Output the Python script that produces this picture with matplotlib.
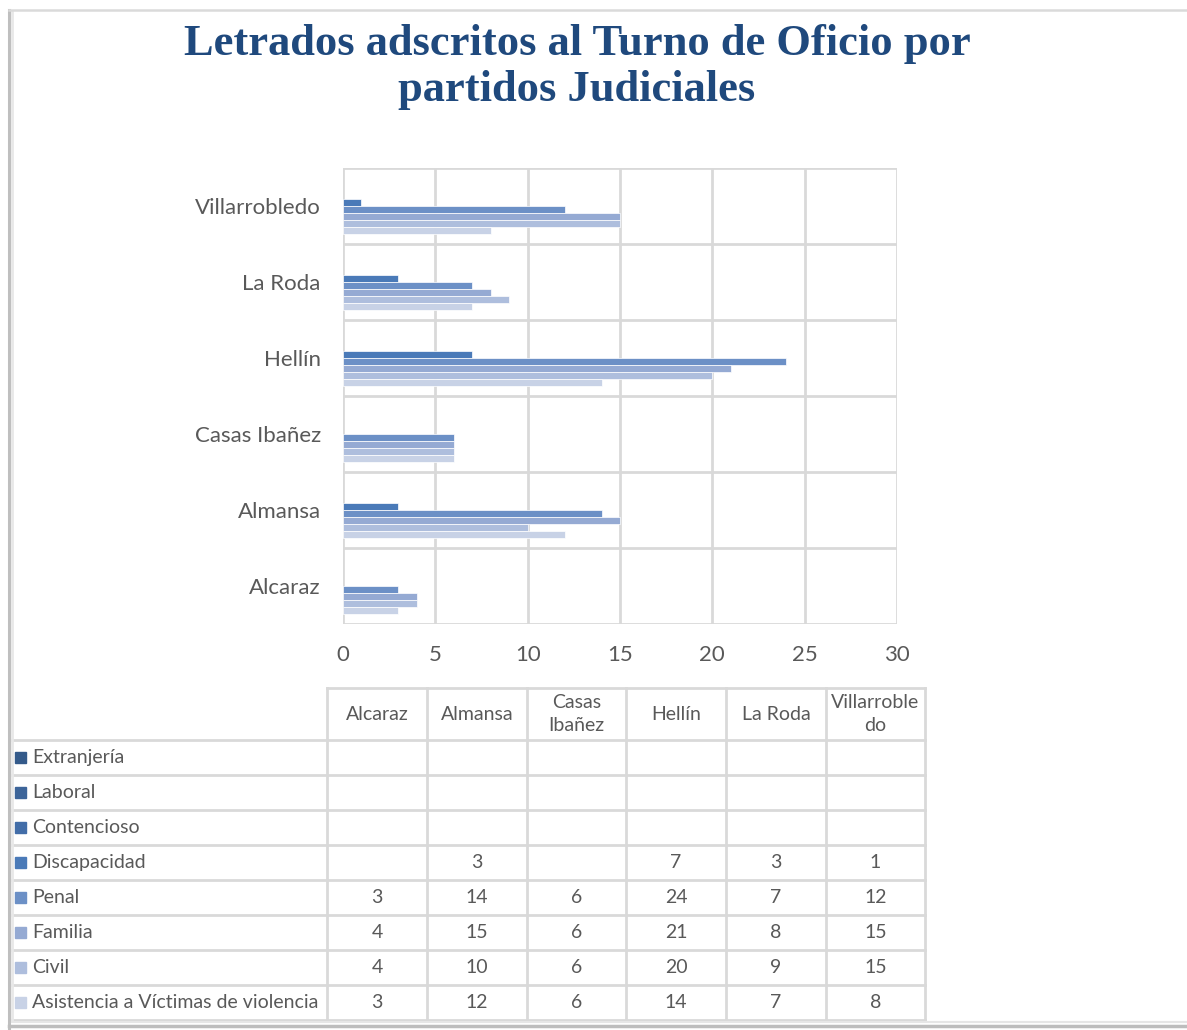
import numpy as np
import matplotlib
matplotlib.use("Agg")
import matplotlib.pyplot as plt

W, H = 1187, 1030
DPI = 100

# datos
partidos = ["Alcaraz", "Almansa", "Casas Ibañez", "Hellín", "La Roda", "Villarrobledo"]
partidos_tabla = ["Alcaraz", "Almansa", "Casas\nIbañez", "Hellín", "La Roda", "Villarroble\ndo"]
series = ["Extranjería", "Laboral", "Contencioso", "Discapacidad", "Penal",
          "Familia", "Civil", "Asistencia a Víctimas de violencia"]
nan = np.nan
extranjeria  = [nan, nan, nan, nan, nan, nan]
laboral      = [nan, nan, nan, nan, nan, nan]
contencioso  = [nan, nan, nan, nan, nan, nan]
discapacidad = [nan, 3, nan, 7, 3, 1]
penal        = [3, 14, 6, 24, 7, 12]
familia      = [4, 15, 6, 21, 8, 15]
civil        = [4, 10, 6, 20, 9, 15]
asistencia   = [3, 12, 6, 14, 7, 8]
valores = [extranjeria, laboral, contencioso, discapacidad, penal, familia, civil, asistencia]

colores = ["#345A8A", "#3C6499", "#426DA8", "#4A7AB8", "#6C90C6",
           "#95AAD3", "#AEBEDD", "#C8D2E6"]
GRID = "#D9D9D9"
TXT = "#595959"
SANS = ["Lato", "DejaVu Sans"]

plt.rcParams["font.family"] = SANS

fig = plt.figure(figsize=(W / DPI, H / DPI), dpi=DPI)

def px_box(x0, y0, x1, y1):
    return [x0 / W, 1 - y1 / H, (x1 - x0) / W, (y1 - y0) / H]

# --- grafico de barras
ax = fig.add_axes(px_box(343, 168, 897, 624))
n = len(series)
grupo = 0.737
h = grupo / n
y = np.arange(len(partidos))
for j, (nombre, vals) in enumerate(zip(series, valores)):
    pos = y + grupo / 2 - h * (j + 0.5)
    ax.barh(pos, vals, height=h, color=colores[j], edgecolor="white",
            linewidth=0.5, zorder=3)

ax.set_xlim(0, 30)
ax.set_ylim(-0.5, len(partidos) - 0.5)
ax.set_xticks(np.arange(0, 31, 5))
ax.set_yticks(y)
ax.set_yticklabels(partidos)
ax.set_yticks(np.arange(-0.5, len(partidos), 1), minor=True)
ax.grid(True, axis="x", which="major", color=GRID, lw=2, zorder=0)
ax.grid(True, axis="y", which="minor", color=GRID, lw=2, zorder=0)
ax.tick_params(axis="both", which="both", length=0, labelsize=16, labelcolor=TXT)
ax.tick_params(axis="x", pad=15)
ax.tick_params(axis="y", pad=16)
for s in ax.spines.values():
    s.set_visible(False)

# --- titulo
fig.text(577 / W, 1 - 67 / H, "Letrados adscritos al Turno de Oficio por\npartidos Judiciales",
         ha="center", va="center", fontsize=32, fontweight="bold",
         family=["Liberation Serif", "DejaVu Serif"], color="#1F497D", linespacing=1.2)

# --- tabla de datos y marco
tab = fig.add_axes([0, 0, 1, 1], zorder=-1)
tab.set_xlim(0, W)
tab.set_ylim(H, 0)
tab.axis("off")

col_x = [327, 427, 527, 626, 726, 826, 925]
head_top, head_bot = 688, 740
row_h = 35
rows_y = [head_bot + row_h * k for k in range(n + 1)]

tab.plot([col_x[0], col_x[-1]], [head_top, head_top], color=GRID, lw=2)
for yy in rows_y:
    tab.plot([11, col_x[-1]], [yy, yy], color=GRID, lw=2)
for xx in col_x:
    tab.plot([xx, xx], [head_top, rows_y[-1]], color=GRID, lw=2)

for i, nombre in enumerate(partidos_tabla):
    tab.text((col_x[i] + col_x[i + 1]) / 2, (head_top + head_bot) / 2, nombre,
             ha="center", va="center", fontsize=14, color=TXT, linespacing=1.45)

for j, (nombre, vals) in enumerate(zip(series, valores)):
    yc = rows_y[j] + row_h / 2
    tab.add_patch(plt.Rectangle((15, yc - 5.5), 11, 11, color=colores[j]))
    tab.text(32, yc, nombre, ha="left", va="center", fontsize=14, color=TXT)
    for i, v in enumerate(vals):
        if not np.isnan(v):
            tab.text((col_x[i] + col_x[i + 1]) / 2, yc, f"{v:g}",
                     ha="center", va="center", fontsize=14, color=TXT)

# marco con sombra
tab.plot([9, 9], [10, H], color="#BFBFBF", lw=2.2)
tab.plot([12, 12], [12, 1021], color="#E8E8E8", lw=2)
tab.plot([9, W], [10, 10], color="#DADADA", lw=1.8)
tab.plot([9, W], [1026, 1026], color="#BDBDBD", lw=2.5)
tab.plot([12, W], [1022, 1022], color="#E6E6E6", lw=1.5)

fig.savefig("out.png", dpi=DPI)
